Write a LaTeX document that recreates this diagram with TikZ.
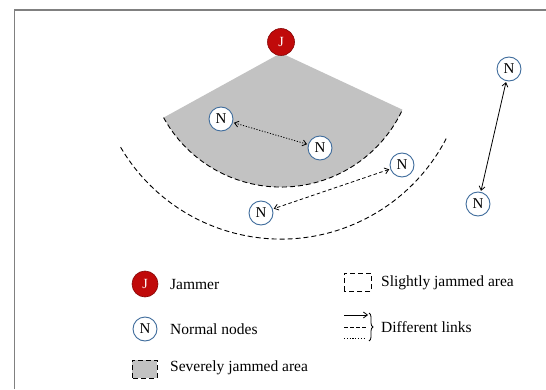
\documentclass[tikz,border=0pt]{standalone}
\usepackage{fontspec}
\setmainfont{Liberation Serif}
\usetikzlibrary{arrows.meta,decorations.pathreplacing}
\definecolor{jred}{HTML}{C00A0A}
\definecolor{nblue}{HTML}{3F6C9C}
\definecolor{fangray}{HTML}{C2C2C2}
\tikzset{
  jam/.style={circle,fill=jred,draw=jred!70!black,line width=0.6pt,minimum size=27pt,inner sep=0pt,text=white,font=\fontsize{14}{14}\selectfont},
  nnode/.style={circle,fill=white,draw=nblue,line width=0.9pt,minimum size=24pt,inner sep=0pt,font=\fontsize{15}{15}\selectfont},
  dsh/.style={dash pattern=on 5pt off 3pt,line width=0.9pt},
  lnk/.style={{Straight Barb[length=4pt,width=6pt]}-{Straight Barb[length=4pt,width=6pt]},line width=0.8pt,shorten <=1pt,shorten >=1pt},
  lbl/.style={anchor=west,inner sep=0pt,font=\fontsize{15.5}{15.5}\selectfont},
  frame/.style={draw=gray,line width=1.6pt}
}
\begin{document}
\begin{tikzpicture}[x=1pt,y=1pt]
\useasboundingbox (0,0) rectangle (546,389);
% frame
\draw[frame] (14.5,0) -- (14.5,379) -- (546,379);
% slightly jammed area
\coordinate (A) at (281,336);
\draw[dsh] (120.6,241.8) arc[start angle=210.4,end angle=332.6,radius=186];
% severely jammed area
\fill[fangray] (A) -- (163.6,271.4) arc[start angle=208.8,end angle=335,radius=134] -- cycle;
\draw[dsh] (163.6,271.4) arc[start angle=208.8,end angle=335,radius=134];
% nodes
\node[jam] (J) at (281,347) {J};
\node[nnode] (n1) at (221,270) {N};
\node[nnode] (n2) at (320,241) {N};
\node[nnode] (n3) at (402,224) {N};
\node[nnode] (n4) at (261,176) {N};
\node[nnode] (n5) at (509,320) {N};
\node[nnode] (n6) at (478,185) {N};
% links
\draw[lnk,dash pattern=on 1.2pt off 1.6pt] (n1) -- (n2);
\draw[lnk,dash pattern=on 3.5pt off 2.5pt] (n3) -- (n4);
\draw[lnk] (n5) -- (n6);
% legend
\node[jam,minimum size=26pt] (lj) at (145,105) {J};
\node[lbl] (tj) at (170,105) {Jammer};
\node[nnode] (ln) at (145,60) {N};
\node[lbl] (tn) at (170,60) {Normal nodes};
\draw[dsh,fill=fangray] (132,11) rectangle (157,29);
\node[lbl] (ts) at (170,21) {Severely jammed area};
\draw[dsh] (344,98) rectangle (371,116);
\node[lbl] (tl) at (381,106) {Slightly jammed area};
\coordinate (s1) at (344,74);
\coordinate (s2) at (368,74);
\coordinate (d1) at (344,62);
\coordinate (d2) at (366,62);
\coordinate (o1) at (344,51);
\coordinate (o2) at (366,51);
\draw[line width=0.8pt,-{Straight Barb[length=4pt,width=6pt]}] (s1) -- (s2);
\draw[line width=0.8pt,dash pattern=on 3.5pt off 2.5pt] (d1) -- (d2);
\draw[line width=0.8pt,dash pattern=on 1.2pt off 1.6pt] (o1) -- (o2);
\coordinate (b1) at (369,76);
\coordinate (b2) at (369,48);
\draw[line width=0.8pt,decorate,decoration={brace,amplitude=4pt}] (b1) -- (b2);
\node[lbl] (tdl) at (381,62) {Different links};
\end{tikzpicture}
\end{document}
